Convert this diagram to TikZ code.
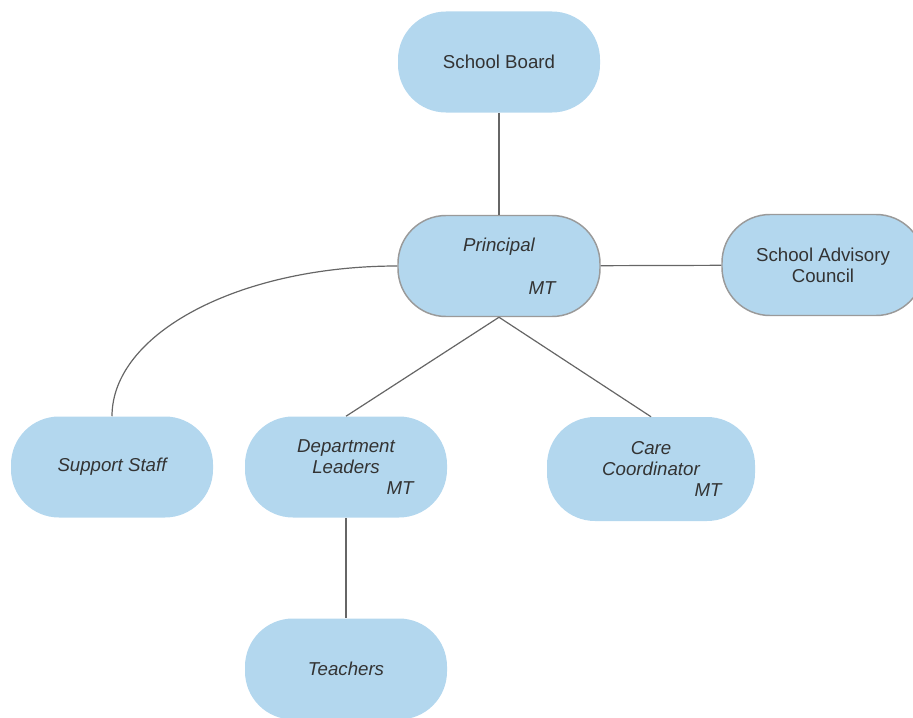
\documentclass[tikz,border=0pt]{standalone}
\usepackage{fontspec}
\setmainfont{Liberation Sans}
\usetikzlibrary{calc}
\definecolor{boxblue}{HTML}{B3D7EE}
\definecolor{txtgray}{HTML}{333333}
\definecolor{linegray}{HTML}{666666}
\definecolor{rimgray}{HTML}{9A9A9A}
\begin{document}
\begin{tikzpicture}[x=.75pt,y=-.75pt,
unit/.style={fill=boxblue,rounded corners=36pt,minimum width=151.5pt,minimum height=75.75pt,inner sep=2pt,align=center,text=txtgray,font=\fontsize{14}{16}\selectfont},
rim/.style={draw=rimgray,line width=1.1pt},
link/.style={draw=linegray,line width=.9pt}]
\useasboundingbox(0,0)rectangle(913,717);
\node[unit](board)at(499,62){School Board};
\node[unit,rim](princ)at(499,266){\itshape Principal\\[16pt]\itshape\hspace*{64.5pt}MT};
\node[unit,rim](council)at(823,265){School Advisory\\Council};
\node[unit](support)at(112,467){\itshape Support Staff};
\node[unit](dept)at(346,467){\itshape Department\\\itshape Leaders\\\itshape\hspace*{81pt}MT};
\node[unit,minimum width=156pt,minimum height=78pt](care)at(651,469){\itshape Care\\\itshape Coordinator\\\itshape\hspace*{85.5pt}MT};
\node[unit](teach)at(346,669){\itshape Teachers};
% connectors
\draw[link](board)--(princ);\draw[link](princ)--(council);
\draw[link](princ.south)--(dept.north);\draw[link](princ.south)--(care.north);
\draw[link](princ.west)..controls+(-158,0)and+(0,-83)..(support.north);
\draw[link](dept)--(teach);
\end{tikzpicture}
\end{document}
